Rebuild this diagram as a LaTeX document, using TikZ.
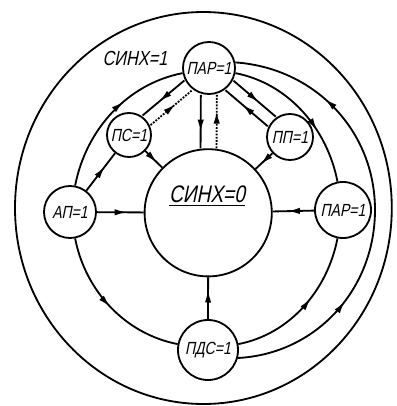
\documentclass[tikz,border=0pt]{standalone}
\usepackage{fontspec}
\setmainfont[FakeSlant=0.2,FakeStretch=0.8]{Liberation Sans}
\usetikzlibrary{arrows.meta, decorations.markings}

\begin{document}
\begin{tikzpicture}[
  line width=1.3pt,
  stnode/.style={draw, circle, inner sep=0pt, minimum size=#1,
                 font=\fontsize{12.5}{15}\selectfont},
  stnode/.default=1.3cm,
  arr/.style={postaction={decorate}, decoration={markings,
              mark=at position #1 with {\arrow{Latex[length=9pt,width=4.5pt]}}}},
  arr/.default=0.6,
  arrtwo/.style={postaction={decorate}, decoration={markings,
              mark=at position 0.28 with {\arrow{Latex[length=9pt,width=4.5pt]}},
              mark=at position 0.78 with {\arrow{Latex[length=9pt,width=4.5pt]}}}}
]
  \useasboundingbox (-5.175,-4.9) rectangle (4.75,5.25);
  \draw (-0.09,0.05) ellipse (4.71 and 4.9);

  \node[draw, circle, minimum size=3.18cm] (sync0) at (0.03,-0.07) {};
  \node[font=\fontsize{17}{20}\selectfont] (sync0txt) at (0,0.35) {\underline{СИНХ=0}};
  \node[stnode] (par) at (0.05,3.55) {ПАР=1};
  \node[stnode=1.1cm] (ps) at (-1.95,1.875) {ПС=1};
  \node[stnode=1.15cm] (pp) at (2.075,1.825) {ПП=1};
  \node[stnode] (ap) at (-3.425,-0.05) {АП=1};
  \node[stnode=1.4cm] (parr) at (3.4,0) {ПАР=1};
  \node[stnode=1.5cm] (pds) at (0.025,-3.5) {ПДС=1};
  \node[font=\fontsize{14.5}{17}\selectfont] (sync1) at (-1.8,3.8) {СИНХ=1};
  \coordinate (rgt) at (4.2,0);

  \draw[arr] (ap) to[out=79, in=191, looseness=0.93] (par);
  \draw[arr=0.65] (par) to[out=-11, in=101, looseness=0.93] (parr);
  \draw[arr=0.57] (pds) to[out=11, in=-101, looseness=0.93] (parr);
  \draw[arr=0.5] (ap) to[out=-79, in=169, looseness=0.93] (pds);
  \draw[arrtwo] (pds.-15) to[out=3, in=-90] (rgt) to[out=90, in=-4] (par.12);

  \draw[arr=0.7, transform canvas={xshift=-0.2cm}] (par) -- (sync0);
  \draw[arr=0.7, densely dotted, transform canvas={xshift=0.2cm}] (sync0) -- (par);
  \draw[arr, transform canvas={shift={(-0.1,0.12)}}] (par) -- (ps);
  \draw[arr, densely dotted, transform canvas={shift={(0.1,-0.12)}}] (ps) -- (par);
  \draw[arr, transform canvas={shift={(0.1,0.12)}}] (par) -- (pp);
  \draw[arr, transform canvas={shift={(-0.1,-0.12)}}] (pp) -- (par);

  \draw[arr=0.7] (ps) -- (sync0);
  \draw[arr=0.7] (pp) -- (sync0);
  \draw[arr=0.65] (ap) -- (ps);
  \draw[arr=0.65] (ap) -- (sync0);
  \draw[arr=0.65] (parr) -- (sync0);
  \draw[arr=0.7] (pds) -- (sync0);
\end{tikzpicture}
\end{document}
